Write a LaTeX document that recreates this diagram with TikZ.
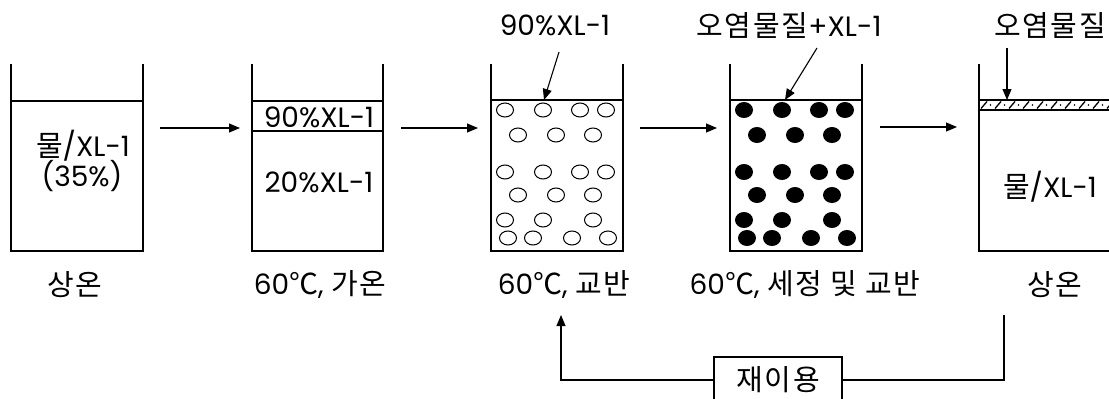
\documentclass[tikz,border=0pt]{standalone}
\usepackage{fontspec}
\setmainfont{Poppins}
\newfontfamily\kr[LetterSpace=6]{Noto Sans CJK KR}
\usetikzlibrary{arrows.meta}
\tikzset{
  wall/.style={line width=1.1pt},
  flow/.style={line width=1.1pt,-{Triangle[length=11pt,width=9pt]}},
  txt/.style={font=\fontsize{28}{32}\selectfont, inner sep=0pt},
  bub/.style={line width=1pt},
  dot/.style={fill=black},
  reusebox/.style={draw,line width=1.1pt,minimum width=128pt,minimum height=46pt,inner sep=0pt},
}
\newcommand{\ko}[1]{{\kr\fontsize{29}{32}\selectfont #1}}
\def\bubblelist{14/110,52/110,89/110,115/110,27/135,65/135,102/135,14/172,52/172,89/172,115/172,27/195,65/195,102/195,14/220,52/220,102/220,17/238,42/238,81/238,117/238}
\begin{document}
\begin{tikzpicture}[x=1pt,y=-1pt]
\clip (0,0) rectangle (1109,399);
\useasboundingbox (0,0) rectangle (1109,399);
% beaker 1
\draw[wall] (11,64) -- (11,251) -- (143,251) -- (143,64);
\draw[wall] (11,101) -- (143,101);
\node[txt] (b1a) at (83,146) {\ko{물}/XL-1};
\node[txt] (b1b) at (82,176) {(35\%)};
\node[txt] (l1) at (75,285) {\ko{상온}};
% beaker 2
\draw[wall] (252,64) -- (252,251) -- (383,251) -- (383,64);
\draw[wall] (252,101) -- (383,101);
\draw[wall] (252,131) -- (383,131);
\node[txt] (b2a) at (319,117) {90\%XL-1};
\node[txt] (b2b) at (319,182) {20\%XL-1};
\node[txt] (l2) at (320,285) {60\ko{℃}, \ko{가온}};
% beaker 3
\draw[wall] (491,64) -- (491,251) -- (623,251) -- (623,64);
\draw[wall] (491,100) -- (623,100);
\foreach \dx/\yy in \bubblelist { \draw[bub] (491+\dx,\yy) ellipse [x radius=8.5pt, y radius=7pt]; }
\node[txt] (t3) at (555,25) {90\%XL-1};
\coordinate (s3) at (559,52);
\coordinate (e3) at (544,100);
\draw[flow] (s3) -- (e3);
\node[txt] (l3) at (564,285) {60\ko{℃}, \ko{교반}};
% beaker 4
\draw[wall] (730,64) -- (730,251) -- (862,251) -- (862,64);
\draw[wall] (730,100) -- (862,100);
\foreach \dx/\yy in \bubblelist { \fill[dot] (730+\dx,\yy) ellipse [x radius=9pt, y radius=8pt]; }
\node[txt] (t4) at (789,25) {\ko{오염물질}+XL-1};
\coordinate (s4) at (817,48);
\coordinate (e4) at (785,100);
\draw[flow] (s4) -- (e4);
\node[txt] (l4) at (805,285) {60\ko{℃}, \ko{세정 및 교반}};
% beaker 5
\draw[wall] (979,64) -- (979,251) -- (1115,251);
\draw[wall] (979,100) -- (1115,100);
\draw[wall] (979,110) -- (1115,110);
\foreach \x in {981,995,...,1110} { \draw[line width=1.3pt] (\x,108.5) -- (\x+6,101.5); \fill (\x+9.5,105) circle (0.9pt); }
\node[txt] (t5) at (1050,25) {\ko{오염물질}};
\coordinate (s5) at (1007,48);
\coordinate (e5) at (1007,100);
\draw[flow] (s5) -- (e5);
\node[txt] (b5a) at (1050,187) {\ko{물}/XL-1};
\node[txt] (l5) at (1055,285) {\ko{상온}};
% process arrows
\coordinate (a1s) at (160,128); \coordinate (a1e) at (240,128);
\coordinate (a2s) at (401,128); \coordinate (a2e) at (478,128);
\coordinate (a3s) at (640,128); \coordinate (a3e) at (717,128);
\coordinate (a4s) at (880,127); \coordinate (a4e) at (957,127);
\draw[flow] (a1s) -- (a1e);
\draw[flow] (a2s) -- (a2e);
\draw[flow] (a3s) -- (a3e);
\draw[flow] (a4s) -- (a4e);
% reuse loop
\node[reusebox] (reuse) at (778,380) {\ko{재이용}};
\coordinate (rtop) at (1004,315);
\coordinate (ltop) at (561,315);
\draw[line width=1.1pt] (rtop) |- (reuse.east);
\draw[flow] (reuse.west) -| (ltop);
\end{tikzpicture}
\end{document}
